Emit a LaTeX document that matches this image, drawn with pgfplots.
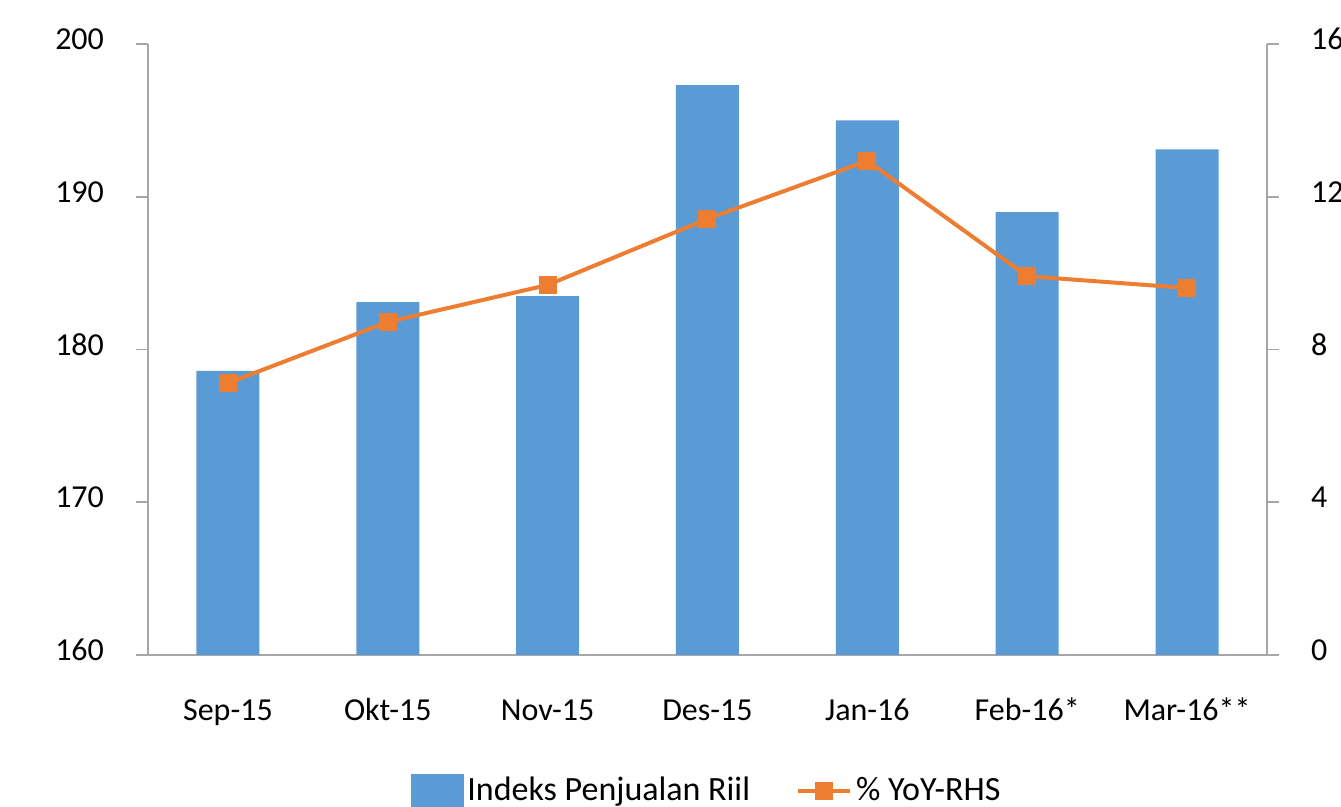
\documentclass[border=0pt]{standalone}
\usepackage{pgfplots}
\pgfplotsset{compat=1.18}
\usepackage{fontspec}
\setmainfont{Carlito}
\usetikzlibrary{calc}
\definecolor{barblue}{HTML}{5B9BD5}
\definecolor{lineorange}{HTML}{ED7D31}
\definecolor{axisgray}{HTML}{A6A6A6}

\pgfplotsset{
  base/.style={
    scale only axis,
    width=559.5pt, height=305.5pt,
    xmin=-0.5, xmax=6.5,
    axis line style={axisgray, line width=0.8pt},
    tick style={axisgray, line width=0.8pt},
    tick align=outside,
    major tick length=6pt,
    /pgf/number format/assume math mode=true,
    ticklabel style={font=\fontsize{16}{16}\selectfont, text=black},
  }
}

\begin{document}
\begin{tikzpicture}
\begin{axis}[base, name=ax,
  axis y line*=left, axis x line*=bottom,
  x axis line style={shorten <=-6pt, shorten >=-6pt},
  ymin=160, ymax=200, ytick={160,170,...,200},
  xtick={0,...,6},
  xticklabels={Sep-15,Okt-15,Nov-15,Des-15,Jan-16,Feb-16*,Mar-16**},
  xtick style={draw=none},
  xticklabel style={yshift=-12pt, text height=11pt, text depth=3pt},
  yticklabel style={xshift=-12.5pt, yshift=2.5pt},
  ybar, bar width=31.5pt,
]
\addplot[fill=barblue, draw=none] coordinates {
  (0,178.6) (1,183.1) (2,183.5) (3,197.3) (4,195.0) (5,189.0) (6,193.1)
};
\end{axis}
\begin{axis}[base,
  axis y line*=right, axis x line=none,
  ymin=0, ymax=16, ytick={0,4,...,16},
  yticklabel style={xshift=12.5pt, yshift=2.5pt},
  legend columns=2,
  legend style={at={(0.5,-0.222)}, anchor=center, draw=none,
    font=\fontsize{17}{17}\selectfont,
    /tikz/every even column/.append style={column sep=21pt}},
]
\addlegendimage{legend image code/.code={\fill[barblue] (0pt,-8pt) rectangle (26pt,8pt);}}
\addlegendentry{Indeks Penjualan Riil}
\addplot[lineorange, line width=2pt, mark=square*, mark size=3.5pt,
  mark options={fill=lineorange, draw=lineorange},
  legend image code/.code={\draw[mark repeat=2, mark phase=2] plot coordinates {(0pt,0pt) (13pt,0pt) (26pt,0pt)};}]
  coordinates {
  (0,7.12) (1,8.72) (2,9.69) (3,11.42) (4,12.94) (5,9.92) (6,9.61)
};
\addlegendentry{\% YoY-RHS}
\end{axis}
\pgfresetboundingbox
\path[use as bounding box] ($(ax.south west)+(-74pt,-76pt)$) rectangle ($(ax.south west)+(596.5pt,327.5pt)$);
\end{tikzpicture}
\end{document}
